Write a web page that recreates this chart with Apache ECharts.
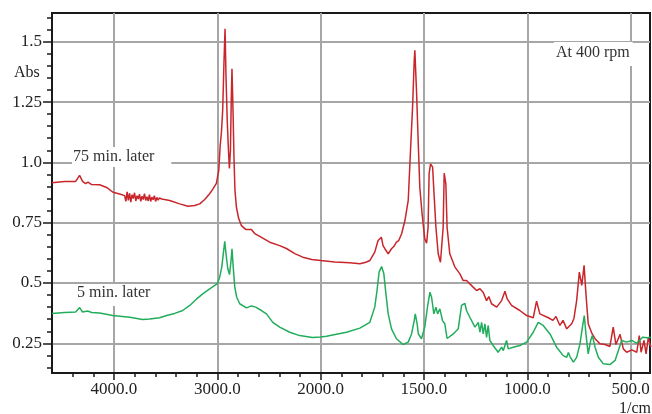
<!DOCTYPE html>
<html>
<head>
<meta charset="utf-8">
<title>IR spectra</title>
<script src="https://cdn.jsdelivr.net/npm/echarts@6/dist/echarts.min.js"></script>
<style>
    html, body { margin: 0; padding: 0; background: #fff; }
    #chart { width: 652px; height: 414px; }
</style>
</head>
<body>
<div id="chart"></div>
<script>
// wavenumber (1/cm), absorbance
var red75 = [
    [4600, 0.915], [4478, 0.921], [4371, 0.921], [4333, 0.946], [4304, 0.921], [4275, 0.912],
    [4252, 0.918], [4216, 0.908], [4139, 0.907], [4071, 0.896], [4010, 0.876], [3945, 0.869],
    [3897, 0.862], [3885, 0.838], [3873, 0.878], [3861, 0.842], [3849, 0.872], [3837, 0.835],
    [3825, 0.866], [3813, 0.850], [3801, 0.874], [3789, 0.840], [3777, 0.862], [3765, 0.848],
    [3753, 0.868], [3741, 0.838], [3729, 0.860], [3717, 0.846], [3705, 0.870], [3693, 0.842],
    [3681, 0.858], [3669, 0.840], [3657, 0.866], [3645, 0.838], [3633, 0.856], [3621, 0.845],
    [3609, 0.862], [3597, 0.838], [3585, 0.855], [3573, 0.843], [3561, 0.852], [3549, 0.845],
    [3537, 0.848], [3461, 0.842], [3364, 0.828], [3284, 0.818], [3219, 0.821], [3170, 0.828],
    [3122, 0.846], [3074, 0.870], [3045, 0.888], [3009, 0.913], [2986, 0.966], [2972, 1.070],
    [2960, 1.125], [2948, 1.215], [2935, 1.422], [2925, 1.554], [2916, 1.360], [2904, 1.174],
    [2892, 1.049], [2883, 0.975], [2873, 1.049], [2865, 1.257], [2858, 1.388], [2848, 1.215],
    [2838, 1.008], [2829, 0.883], [2815, 0.814], [2793, 0.767], [2767, 0.738], [2725, 0.722],
    [2670, 0.722], [2638, 0.705], [2589, 0.693], [2493, 0.669], [2396, 0.655], [2331, 0.643],
    [2250, 0.622], [2173, 0.607], [2086, 0.597], [2000, 0.593], [1931, 0.587], [1859, 0.584],
    [1810, 0.580], [1781, 0.586], [1762, 0.593], [1738, 0.628], [1722, 0.676], [1714, 0.684],
    [1706, 0.690], [1698, 0.655], [1689, 0.642], [1673, 0.621], [1657, 0.642], [1646, 0.651],
    [1633, 0.669], [1622, 0.676], [1608, 0.704], [1592, 0.759], [1576, 0.842], [1565, 1.049],
    [1555, 1.229], [1547, 1.422], [1544, 1.464], [1536, 1.298], [1528, 1.091], [1520, 0.897],
    [1509, 0.787], [1496, 0.683], [1487, 0.665], [1480, 0.731], [1475, 0.953], [1468, 0.994],
    [1458, 0.980], [1452, 0.883], [1442, 0.731], [1431, 0.621], [1420, 0.586], [1407, 0.731],
    [1402, 0.955], [1394, 0.911], [1388, 0.731], [1375, 0.621], [1350, 0.566], [1326, 0.538],
    [1310, 0.510], [1294, 0.510], [1262, 0.483], [1245, 0.469], [1229, 0.476], [1213, 0.461],
    [1197, 0.427], [1186, 0.444], [1173, 0.414], [1148, 0.400], [1124, 0.427], [1108, 0.466],
    [1097, 0.434], [1076, 0.407], [1036, 0.386], [1003, 0.365], [971, 0.356], [955, 0.425],
    [939, 0.372], [898, 0.356], [876, 0.345], [861, 0.361], [842, 0.324], [827, 0.345],
    [809, 0.310], [798, 0.320], [785, 0.331], [774, 0.353], [761, 0.427], [748, 0.545],
    [736, 0.490], [725, 0.573], [716, 0.455], [705, 0.331], [687, 0.291], [672, 0.269],
    [648, 0.248], [624, 0.245], [600, 0.237], [584, 0.317], [571, 0.245], [551, 0.287],
    [535, 0.227], [519, 0.213], [494, 0.223], [470, 0.213], [458, 0.282], [449, 0.213],
    [435, 0.262], [425, 0.206], [414, 0.275], [402, 0.234]
];

var green5 = [
    [4600, 0.374], [4478, 0.378], [4371, 0.380], [4333, 0.398], [4304, 0.380], [4255, 0.384],
    [4216, 0.378], [4139, 0.376], [4013, 0.365], [3848, 0.358], [3723, 0.349], [3655, 0.351],
    [3558, 0.356], [3490, 0.365], [3413, 0.374], [3335, 0.386], [3267, 0.407], [3200, 0.434],
    [3141, 0.455], [3074, 0.476], [3025, 0.490], [2999, 0.497], [2977, 0.524], [2957, 0.566],
    [2938, 0.635], [2928, 0.673], [2914, 0.614], [2899, 0.560], [2882, 0.535], [2867, 0.593],
    [2858, 0.642], [2846, 0.566], [2831, 0.483], [2812, 0.441], [2783, 0.414], [2718, 0.397],
    [2670, 0.405], [2628, 0.400], [2573, 0.386], [2524, 0.372], [2463, 0.337], [2396, 0.317],
    [2299, 0.296], [2202, 0.282], [2080, 0.274], [2000, 0.276], [1972, 0.279], [1875, 0.296],
    [1810, 0.313], [1762, 0.337], [1738, 0.400], [1727, 0.469], [1717, 0.545], [1705, 0.568],
    [1694, 0.538], [1684, 0.455], [1673, 0.372], [1657, 0.310], [1633, 0.269], [1601, 0.245],
    [1576, 0.255], [1560, 0.289], [1547, 0.344], [1542, 0.372], [1533, 0.331], [1527, 0.289],
    [1512, 0.269], [1496, 0.317], [1483, 0.400], [1471, 0.462], [1463, 0.441], [1452, 0.372],
    [1442, 0.400], [1434, 0.372], [1423, 0.393], [1410, 0.344], [1399, 0.331], [1388, 0.270],
    [1379, 0.262], [1358, 0.289], [1334, 0.310], [1318, 0.407], [1302, 0.416], [1294, 0.386],
    [1278, 0.358], [1253, 0.317], [1237, 0.337], [1229, 0.296], [1221, 0.337], [1213, 0.289],
    [1205, 0.331], [1197, 0.275], [1189, 0.324], [1181, 0.262], [1165, 0.241], [1141, 0.213],
    [1124, 0.234], [1116, 0.220], [1100, 0.262], [1092, 0.227], [1068, 0.234], [1036, 0.241],
    [1003, 0.255], [971, 0.296], [947, 0.337], [939, 0.344], [923, 0.324], [890, 0.289],
    [858, 0.234], [826, 0.199], [809, 0.192], [801, 0.212], [793, 0.195], [777, 0.172],
    [761, 0.192], [745, 0.248], [733, 0.317], [724, 0.365], [716, 0.289], [705, 0.206],
    [693, 0.262], [685, 0.282], [672, 0.234], [656, 0.192], [632, 0.165], [600, 0.162],
    [575, 0.179], [559, 0.220], [543, 0.262], [519, 0.255], [494, 0.262], [470, 0.250],
    [442, 0.275], [418, 0.273], [402, 0.275]
];

var xMajorTicks = [4000, 3000, 2000, 1500, 1000, 500];
var xMinorTicks = [4400, 4200, 4000, 3800, 3600, 3400, 3200, 3000, 2800, 2600, 2400, 2200,
    2000, 1900, 1800, 1700, 1600, 1500, 1400, 1300, 1200, 1100, 1000, 900, 800, 700, 600, 500];
var yMajorTicks = [0.25, 0.5, 0.75, 1.0, 1.25, 1.5];
var yMinorTicks = [0.15, 0.2, 0.25, 0.3, 0.35, 0.4, 0.45, 0.5, 0.55, 0.6, 0.65, 0.7, 0.75,
    0.8, 0.85, 0.9, 0.95, 1.0, 1.05, 1.1, 1.15, 1.2, 1.25, 1.3, 1.35, 1.4, 1.45, 1.5, 1.55, 1.6];

// the spectrometer plot is expanded 2x below 2000 1/cm
function toAxis(w) {
    return w > 2000 ? w / 2 + 1000 : w;
}
function fromAxis(u) {
    return u > 2000 ? u * 2 - 2000 : u;
}
function mapSeries(arr) {
    var out = [];
    for (var i = 0; i < arr.length; i++) {
        out.push([toAxis(arr[i][0]), arr[i][1]]);
    }
    return out;
}

var serif = '"Liberation Serif", "DejaVu Serif", serif';
var xMin = toAxis(406), xMax = toAxis(4600);
var yMin = 0.127, yMax = 1.619;

var chart = echarts.init(document.getElementById('chart'), null, { renderer: 'canvas' });

chart.setOption({
    animation: false,
    backgroundColor: '#fff',
    grid: {
        left: 52, right: 2, top: 13, bottom: 41,
        containLabel: false, outerBoundsMode: 'none',
        show: true, borderColor: '#1a1a1a', borderWidth: 2, backgroundColor: 'transparent'
    },
    xAxis: [{
        type: 'value', position: 'bottom', inverse: true, min: xMin, max: xMax,
        axisLine: { show: true, lineStyle: { color: '#1a1a1a', width: 2 } },
        axisTick: { show: true, length: 7, lineStyle: { color: '#1a1a1a', width: 1.5 },
            customValues: xMajorTicks.map(toAxis) },
        axisLabel: {
            customValues: xMajorTicks.map(toAxis), margin: 8,
            color: '#222', fontFamily: serif, fontSize: 17,
            formatter: function (u) { return fromAxis(u).toFixed(1); }
        },
        splitLine: { show: true, lineStyle: { color: '#a6a6a6', width: 2 } }
    }, {
        type: 'value', position: 'bottom', inverse: true, min: xMin, max: xMax,
        axisLine: { show: false },
        axisTick: { show: true, length: 4, lineStyle: { color: '#1a1a1a', width: 1.5 },
            customValues: xMinorTicks.map(toAxis) },
        axisLabel: { show: false },
        splitLine: { show: false }
    }],
    yAxis: [{
        type: 'value', position: 'left', min: yMin, max: yMax,
        axisLine: { show: true, lineStyle: { color: '#1a1a1a', width: 2 } },
        axisTick: { show: true, length: 9, lineStyle: { color: '#1a1a1a', width: 1.5 },
            customValues: yMajorTicks },
        axisLabel: {
            customValues: yMajorTicks, margin: 10,
            color: '#222', fontFamily: serif, fontSize: 17,
            formatter: function (v) { return v === 1 ? '1.0' : String(v); }
        },
        splitLine: { show: true, lineStyle: { color: '#a6a6a6', width: 2 } }
    }, {
        type: 'value', position: 'left', min: yMin, max: yMax,
        axisLine: { show: false },
        axisTick: { show: true, length: 5, lineStyle: { color: '#1a1a1a', width: 1.5 },
            customValues: yMinorTicks },
        axisLabel: { show: false },
        splitLine: { show: false }
    }],
    graphic: [
        { type: 'text', left: 14, top: 65, z: 100,
            style: { text: 'Abs', font: '16px ' + serif, fill: '#222' } },
        { type: 'text', right: 1, top: 401, z: 100,
            style: { text: '1/cm', font: '16px ' + serif, fill: '#222' } },
        { type: 'text', left: 72, top: 147, z: 100,
            style: { text: '75 min. later', font: '16px ' + serif, fill: '#333',
                backgroundColor: '#fff', padding: [2, 17, 2, 1] } },
        { type: 'text', left: 76, top: 284, z: 100,
            style: { text: '5 min. later', font: '16px ' + serif, fill: '#333',
                backgroundColor: '#fff', padding: [1, 2, 5, 1] } },
        { type: 'text', left: 554, top: 42, z: 100,
            style: { text: 'At 400 rpm', font: '16px ' + serif, fill: '#333',
                backgroundColor: '#fff', padding: [3, 3, 5, 2] } }
    ],
    series: [{
        name: '75 min. later', type: 'line', xAxisIndex: 0, yAxisIndex: 0,
        data: mapSeries(red75), showSymbol: false, symbol: 'none',
        lineStyle: { color: '#c8262b', width: 1.5 }, z: 3
    }, {
        name: '5 min. later', type: 'line', xAxisIndex: 0, yAxisIndex: 0,
        data: mapSeries(green5), showSymbol: false, symbol: 'none',
        lineStyle: { color: '#22ad5c', width: 1.5 }, z: 4
    }]
});
</script>
</body>
</html>
